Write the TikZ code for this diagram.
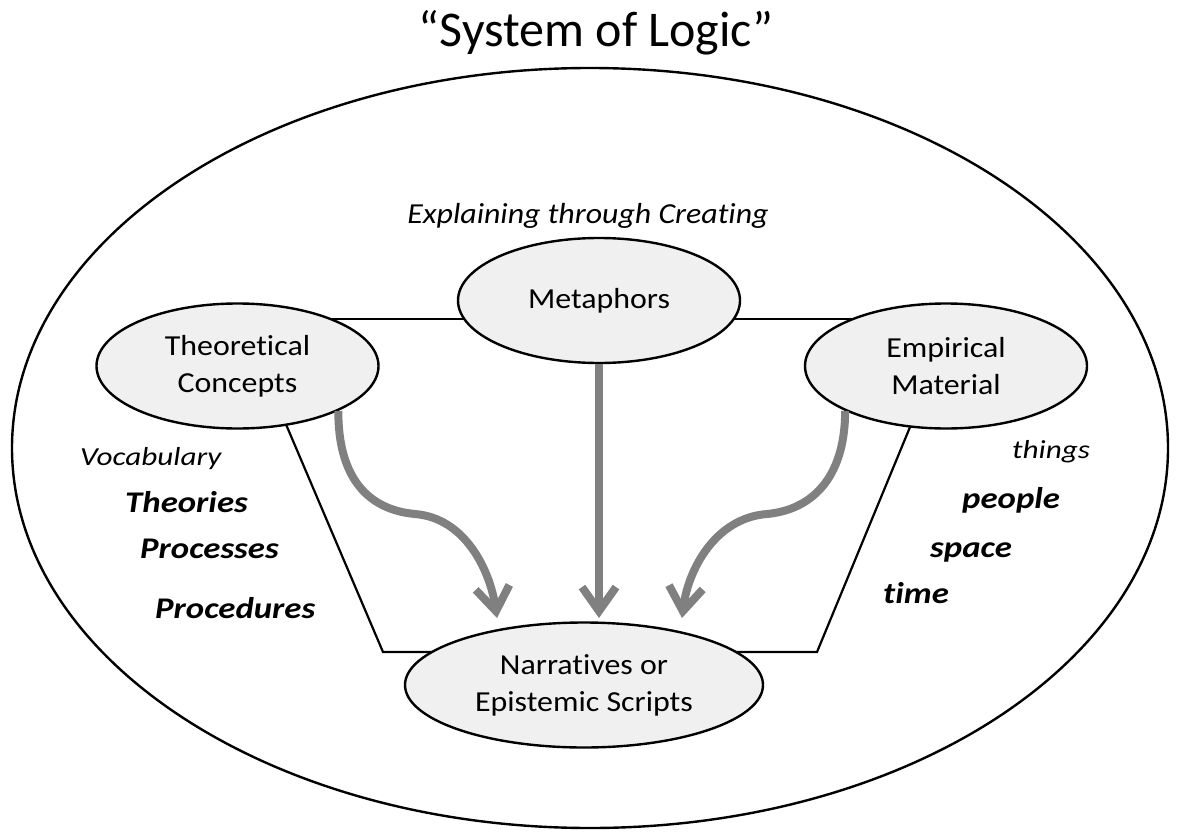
\documentclass[tikz,border=0pt]{standalone}
\usepackage{fontspec}
\setmainfont{Carlito}[Ligatures={TeX,NoCommon}]
\newfontfamily\bubblefont{Carlito}[Ligatures={TeX,NoCommon}, FakeStretch=1.1]
\newfontfamily\notefont{Carlito}[Ligatures={TeX,NoCommon}, FakeStretch=1.2]
\newfontfamily\keyfont{Carlito}[Ligatures={TeX,NoCommon}, FakeStretch=1.16]
\usetikzlibrary{arrows.meta,shapes.geometric}

\begin{document}
\begin{tikzpicture}[x=1pt,y=-1pt,
  bubble/.style={ellipse, draw=black, line width=2.4pt, fill=gray!12,
    minimum width=282pt, minimum height=125pt, inner sep=0pt, align=center,
    font=\bubblefont\fontsize{29}{37}\selectfont},
  frame/.style={line width=2.2pt, black},
  flow/.style={draw=gray, line width=8pt,
    -{Straight Barb[length=24pt,width=34pt]}},
  note/.style={anchor=base west, inner sep=0pt, font=\notefont\fontsize{26}{30}\selectfont\itshape},
  key/.style={anchor=base west, inner sep=0pt, font=\keyfont\fontsize{30}{36}\selectfont\bfseries\itshape}
]
\useasboundingbox (0,0) rectangle (1177,832);

% outer boundary and title
\node[ellipse, draw, line width=2.4pt, minimum width=1156pt, minimum height=760pt,
  inner sep=0pt] (logic) at (590,448) {};
\node[anchor=base, inner sep=0pt, font=\fontsize{50}{58}\selectfont] (title) at (596,47)
  {``System of Logic''};

% frame behind the bubbles
\coordinate (ftl) at (330,319);
\coordinate (ftr) at (860,319);
\coordinate (fl1) at (282,415);
\coordinate (fl2) at (383,652);
\coordinate (fr2) at (817,652);
\coordinate (fr1) at (915,415);
\draw[frame] (ftl) -- (ftr);
\draw[frame] (fl1) -- (fl2) -- (fr2) -- (fr1);

% bubbles
\node[bubble] (meta) at (599,300.5) {Metaphors};
\node[bubble] (theo) at (237.5,366) {Theoretical\\Concepts};
\node[bubble] (emp) at (946,366) {Empirical\\Material};
\node[bubble, minimum width=358pt] (narr) at (584,685) {Narratives or\\Epistemic Scripts};

\node[anchor=base, inner sep=0pt, font=\bubblefont\fontsize{29}{34}\selectfont\itshape] (expl)
  at (588,223) {Explaining through Creating};

% arrow ends
\coordinate (tipL) at (497,618);
\coordinate (tipC) at (599,618);
\coordinate (tipR) at (682,618);

% flows into the narratives
\draw[flow] (theo.-24) .. controls (338,480) and (370,510) .. (415,514)
  .. controls (465,518) and (490,570) .. (tipL);
\draw[flow] (meta.south) -- (tipC);
\draw[flow] (emp.-156) .. controls (845,480) and (810,510) .. (767,514)
  .. controls (715,518) and (688,570) .. (tipR);

% side labels
\node[note] (voc) at (80,465) {Vocabulary};
\node[key] (thr) at (125,512) {Theories};
\node[key] (prs) at (140,558) {Processes};
\node[key] (prc) at (155,618) {Procedures};

\node[note] (thg) at (1012,458) {things};
\node[key] (ppl) at (962,508) {people};
\node[key] (spc) at (930,557) {space};
\node[key] (tim) at (883,603) {time};
\end{tikzpicture}
\end{document}
